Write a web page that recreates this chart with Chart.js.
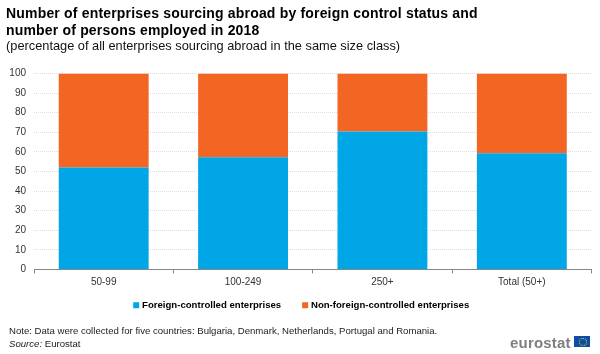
<!DOCTYPE html>
<html><head><meta charset="utf-8">
<script src="https://cdn.jsdelivr.net/npm/chart.js@4"></script>
<style>
html,body{margin:0;padding:0;background:#fff;width:600px;height:354px;overflow:hidden;font-family:"Liberation Sans",Arial,sans-serif}
#c{position:absolute;left:0;top:0}
.t{position:absolute;white-space:nowrap;color:#000}
#title{left:6px;top:5px;font-size:14px;font-weight:bold;line-height:16.5px;letter-spacing:.18px}
#sub{left:6px;top:38px;font-size:12.8px;line-height:15px;color:#111}
#note{left:9px;top:324px;font-size:9.6px;line-height:13px;color:#222}
#logo{left:510px;top:334px;font-size:15px;font-weight:bold;color:#7f7f7f;letter-spacing:.2px;line-height:17px}
#flag{position:absolute;left:574px;top:336px;width:16px;height:11px;background:#0b4ea2}
#flag i{position:absolute;left:4.5px;top:1.5px;width:6px;height:6px;border:1px dotted #f5d33a;border-radius:50%}
</style></head><body>
<canvas id="c" width="600" height="354" style="width:600px;height:354px"></canvas>
<div class="t" id="title">Number of enterprises sourcing abroad by foreign control status and<br>number of persons employed in 2018</div>
<div class="t" id="sub">(percentage of all enterprises sourcing abroad in the same size class)</div>
<div class="t" id="note">Note: Data were collected for five countries: Bulgaria, Denmark, Netherlands, Portugal and Romania.<br><i>Source:</i> Eurostat</div>
<div class="t" id="logo">eurostat</div><div id="flag"><i></i></div>
<script>
const categories = ["50-99","100-249","250+","Total (50+)"];
const foreignControlled = [52,57.3,70.4,59.3];
const nonForeignControlled = [48,42.7,29.6,40.7];
const yTicks = [0,10,20,30,40,50,60,70,80,90,100];
const seriesNames = ["Foreign-controlled enterprises","Non-foreign-controlled enterprises"];
const blue="#00a6e6", orange="#f26522";
Chart.defaults.font.family='"Liberation Sans",Arial,sans-serif';
Chart.defaults.animation=false;
const moveLegend={id:'moveLegend',afterLayout(chart){
 const l=chart.legend;l.top-=14;l.bottom-=14;l.left+=6.5;l.right+=6.5;}};
new Chart(document.getElementById('c'),{
 type:'bar',
 plugins:[moveLegend],
 data:{labels:categories,datasets:[
  {label:seriesNames[0],data:foreignControlled,backgroundColor:blue,barPercentage:.645,categoryPercentage:1},
  {label:seriesNames[1],data:nonForeignControlled,backgroundColor:orange,barPercentage:.645,categoryPercentage:1}
 ]},
 options:{responsive:false,maintainAspectRatio:false,
  layout:{padding:{left:0,right:8.5,top:73.5,bottom:20}},
  plugins:{
   title:{display:false},tooltip:{enabled:false},
   legend:{position:'bottom',align:'center',
    labels:{usePointStyle:true,pointStyle:'rect',boxWidth:2,boxHeight:6,padding:23,color:'#000',font:{size:9.6,weight:'bold'}}}
  },
  scales:{
   x:{stacked:true,
    grid:{display:true,drawOnChartArea:false,drawTicks:true,tickLength:4,color:'#868686',offset:true},
    border:{color:'#868686'},
    ticks:{color:'#333',font:{size:10},padding:3,maxRotation:0},
    afterFit(s){s.height=22}},
   y:{stacked:true,min:0,max:100,
    afterBuildTicks(s){s.ticks=yTicks.map(v=>({value:v}))},
    grid:{color:'#dedede',drawTicks:false,tickLength:0},
    border:{display:false,dash:[1,1]},
    ticks:{color:'#333',font:{size:10},padding:8},
    afterFit(s){s.width=34}}
  }}
});
</script></body></html>
